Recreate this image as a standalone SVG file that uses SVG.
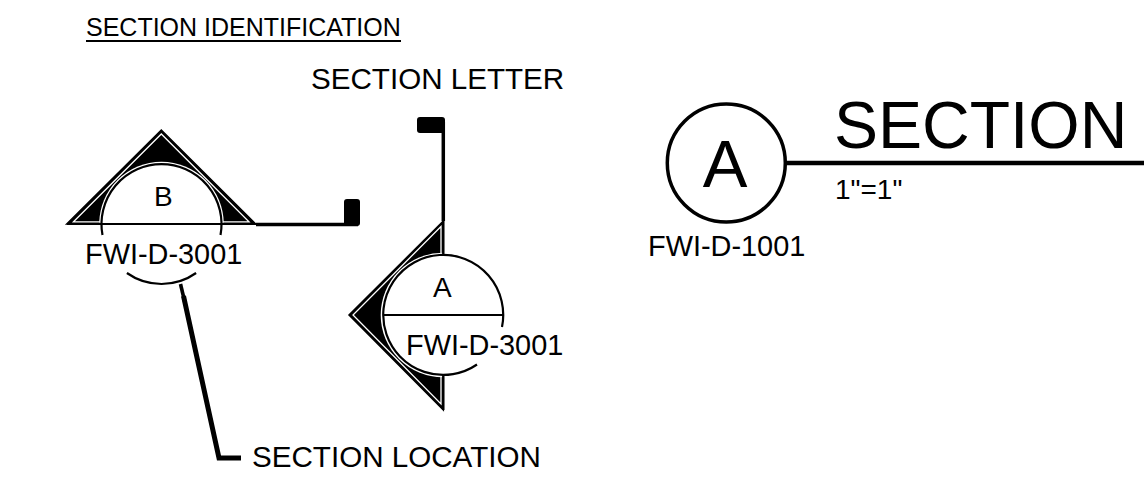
<svg xmlns="http://www.w3.org/2000/svg" width="1144" height="478" viewBox="0 0 1144 478">
<style>
text{font-family:"Liberation Sans",Arial,sans-serif;fill:#000}
.t28{font-size:28px}
.t29{font-size:28.9px}
.t30{font-size:29.6px}
.arc{fill:none;stroke:#000;stroke-width:2.2}
.lead{fill:none;stroke:#000;stroke-width:3.5}
.gap{fill:none;stroke:#fff;stroke-width:1.3}
</style>
<rect width="1144" height="478" fill="#fff"/>
<defs>
<clipPath id="above"><rect x="60" y="120" width="200" height="102.5"/></clipPath>
<clipPath id="left"><rect x="340" y="215" width="106" height="200"/></clipPath>
</defs>
<g id="title"><text x="86" y="35.5" font-size="25">SECTION IDENTIFICATION</text><path d="M86 41H401" stroke="#000" stroke-width="2"/></g>
<g id="connectors">
<path class="lead" d="M256 224.5H358"/>
<rect x="344" y="199" width="16" height="27" rx="3"/>
<path class="lead" d="M443.3 221V122"/>
<rect x="417" y="117" width="28" height="16" rx="3"/>
<path d="M180.5 284L185 303" fill="none" stroke="#000" stroke-width="3.6"/>
<path d="M183.5 296L219 458H241" fill="none" stroke="#000" stroke-width="5"/>
</g>
<g id="section-b">
<polygon points="66.7,224 161.3,130 255.7,224" fill="#000" stroke="#000" stroke-width="1.5" stroke-linejoin="miter"/>
<polygon class="gap" points="73.5,221.8 161.3,134 249,221.8"/>
<circle cx="161.5" cy="224" r="62.3" fill="#fff" clip-path="url(#above)"/>
<path d="M100 222.5H223" stroke="#fff" stroke-width="2"/>
<path d="M67 224H256" stroke="#000" stroke-width="2"/>
<path class="arc" d="M102.5 235A60 60 0 1 1 220.5 235"/>
<path class="arc" d="M126.9 273A60 60 0 0 0 196.1 273"/>
<text class="t28" x="154" y="206">B</text>
<text class="t29" x="85" y="264">FWI-D-3001</text>
</g>
<g id="section-a">
<polygon points="443.3,221 349,315 443.3,410" fill="#000" stroke="#000" stroke-width="1.5"/>
<polygon class="gap" points="441,226.5 353,315 441,404"/>
<circle cx="443" cy="315" r="62.3" fill="#fff" clip-path="url(#left)"/>
<path d="M443.3 221V256M443.3 375V410" stroke="#000" stroke-width="2.4"/>
<path class="arc" d="M502 327A60 60 0 1 0 477 364.5"/>
<path class="arc" d="M383 315H503"/>
<text class="t28" x="433" y="297">A</text>
<text class="t29" x="406" y="355">FWI-D-3001</text>
</g>
<g id="section-letter-label"><text class="t30" x="311" y="89">SECTION LETTER</text></g>
<g id="section-location-label"><text class="t30" x="252" y="467">SECTION LOCATION</text></g>
<g id="section-title">
<circle cx="726.3" cy="163" r="59" fill="none" stroke="#000" stroke-width="3.5"/>
<path d="M786 163H1144" stroke="#000" stroke-width="4.5"/>
<text x="725" y="187" font-size="67" text-anchor="middle">A</text>
<text x="834" y="148" font-size="66">SECTION</text>
<text class="t28" x="835" y="199">1"=1"</text>
<text class="t29" x="648" y="256">FWI-D-1001</text>
</g>
</svg>
